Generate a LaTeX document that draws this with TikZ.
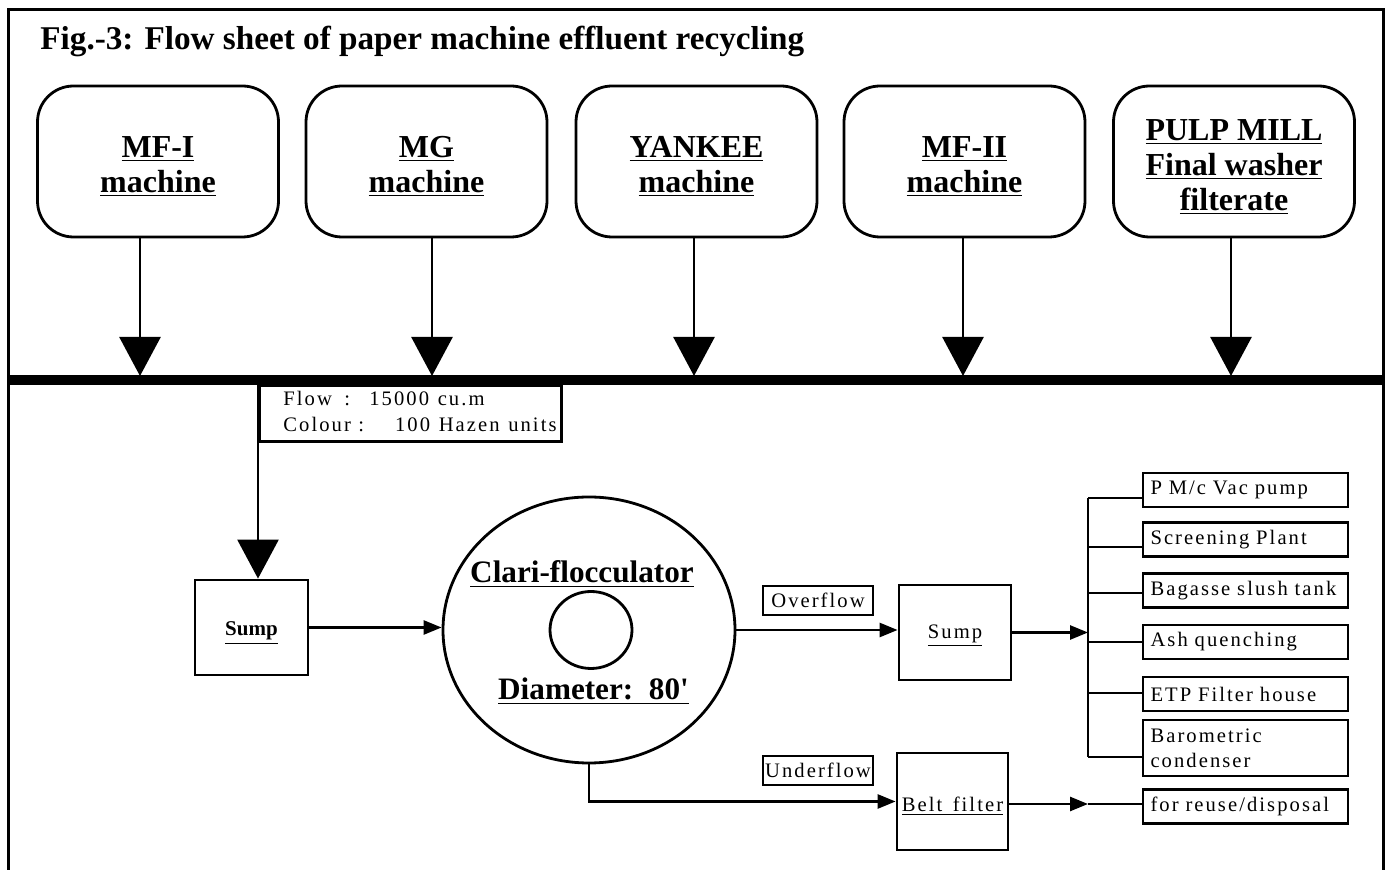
\documentclass[tikz,border=0pt]{standalone}
\usepackage{fontspec}
\setmainfont{Liberation Serif}
\newfontfamily\boxfont[LetterSpace=10,WordSpace=1.8]{Liberation Serif}
\newfontfamily\infofont[LetterSpace=10,WordSpace=1.2]{Liberation Serif}
\usetikzlibrary{arrows.meta,shapes.geometric}
\newcommand{\topstrut}{\rule{0pt}{15.8pt}}
\tikzset{
  frame/.style={line width=1.5pt},
  topbox/.style={draw, line width=1.4pt, rounded corners=18pt, minimum width=120.5pt, minimum height=75.5pt, align=center, inner sep=0pt, font=\bfseries\fontsize{16}{17.5}\selectfont},
  bigarr/.style={line width=1.3pt, -{Triangle[width=20.5pt,length=19.5pt]}},
  arr/.style={line width=1.3pt, -{Triangle[width=7pt,length=9pt]}},
  conn/.style={line width=1.3pt},
  sbox/.style={draw, line width=1.4pt, inner sep=0pt},
  lbl/.style={sbox, minimum width=55pt, minimum height=14.5pt, font=\boxfont\fontsize{10.3}{12}\selectfont},
  rbox/.style={draw, line width=1.4pt, minimum width=102.5pt, minimum height=17pt, text width=95pt, inner xsep=3.75pt, inner ysep=0pt, align=left, font=\boxfont\fontsize{10.3}{12.5}\selectfont},
}
\begin{document}
\begin{tikzpicture}[x=0.5pt,y=-0.5pt]
\useasboundingbox (0,0) rectangle (1388,870);
% frame
\draw[frame] (8,870) -- (8,10) -- (1383,10) -- (1383,870);
% title
\node[anchor=base west, inner sep=0pt, font=\bfseries\fontsize{16.6}{20}\selectfont] (title) at (40,50) {Fig.-3: Flow sheet of paper machine effluent recycling};
% top boxes
\node[topbox] (m1) at (158,161.5) {\topstrut\underline{MF-I}\\\underline{machine}};
\node[topbox] (m2) at (426.5,161.5) {\topstrut\underline{MG}\\\underline{machine}};
\node[topbox] (m3) at (696.5,161.5) {\topstrut\underline{YANKEE}\\\underline{machine}};
\node[topbox] (m4) at (964.5,161.5) {\topstrut\underline{MF-II}\\\underline{machine}};
\node[topbox] (m5) at (1234,161.5) {\topstrut\underline{PULP MILL}\\\underline{Final washer}\\\underline{filterate}};
% bus
\coordinate (busL) at (8,380);
\coordinate (busR) at (1383,380);
\draw[line width=5pt] (busL) -- (busR);
\coordinate (b1) at (140,376);
\coordinate (b2) at (432,376);
\coordinate (b3) at (694,376);
\coordinate (b4) at (963,376);
\coordinate (b5) at (1231,376);
\draw[bigarr] (m1.south -| b1) -- (b1);
\draw[bigarr] (m2.south -| b2) -- (b2);
\draw[bigarr] (m3.south -| b3) -- (b3);
\draw[bigarr] (m4.south -| b4) -- (b4);
\draw[bigarr] (m5.south -| b5) -- (b5);
% info box
\node[sbox, anchor=north west, minimum width=151pt, minimum height=28pt] (info) at (258,384) {};
\node[anchor=north west, inner sep=0pt, align=left, font=\infofont\fontsize{10.3}{13}\selectfont] (infotxt) at (283,391)
 {\makebox[30.5pt][l]{Flow}:\makebox[39.5pt][r]{15000}\ cu.m\\
  \makebox[37.5pt][l]{Colour}:\makebox[33pt][r]{100}\ Hazen units};
% sump 1
\node[sbox, minimum width=56.5pt, minimum height=47.5pt, font=\bfseries\fontsize{10.5}{12}\selectfont] (s1) at (251.5,627.5) {\rule{0pt}{12.5pt}\underline{Sump}};
\coordinate (c0) at (258,385);
\draw[bigarr] (c0) -- (c0 |- s1.north);
% clari-flocculator
\node[draw, ellipse, line width=1.4pt, minimum width=146pt, minimum height=133pt, inner sep=0pt] (clari) at (589,630) {};
\node[draw, ellipse, line width=1.4pt, minimum width=41pt, minimum height=38.5pt, inner sep=0pt] (core) at (591,630) {};
\node[anchor=base, inner sep=0pt, font=\bfseries\fontsize{15.6}{18}\selectfont] (clabel) at (582,583) {\underline{Clari-flocculator}};
\node[anchor=base, inner sep=0pt, font=\bfseries\fontsize{15.6}{18}\selectfont] (dlabel) at (593.5,700) {\underline{Diameter:\ \ 80\textquotesingle}};
\draw[arr] (s1.east) -- (s1.east -| clari.west);
% overflow branch
\node[lbl] (over) at (818,600.5) {Overflow};
\node[sbox, minimum width=56pt, minimum height=47.5pt, font=\boxfont\fontsize{10.3}{12}\selectfont] (s2) at (955,632.5) {\rule{0pt}{10pt}\underline{Sump}};
\draw[arr] (clari.east) -- (clari.east -| s2.west);
% underflow branch
\node[lbl] (under) at (818,770.5) {Underflow};
\node[sbox, minimum width=55.5pt, minimum height=48.5pt, font=\boxfont\fontsize{10.3}{12}\selectfont] (belt) at (952.5,801.5) {\rule{0pt}{12pt}\underline{Belt filter}};
\draw[arr] (clari.south) |- (belt.west);
% distribution
\node[rbox] (r1) at (1245.5,490) {P M/c Vac pump};
\node[rbox] (r2) at (1245.5,539.5) {Screening Plant};
\node[rbox] (r3) at (1245.5,590.5) {Bagasse slush tank};
\node[rbox] (r4) at (1245.5,642) {Ash quenching};
\node[rbox] (r5) at (1245.5,694) {ETP Filter house};
\node[rbox, minimum height=28pt] (r6) at (1245.5,748) {Barometric\\condenser};
\node[rbox] (r7) at (1245.5,806.5) {for reuse/disposal};
\coordinate (d1) at (1088,498);
\coordinate (d2) at (1088,547);
\coordinate (d3) at (1088,593);
\coordinate (d4) at (1088,642);
\coordinate (d5) at (1088,693);
\coordinate (d6) at (1088,757);
\coordinate (dj) at (1088,632.5);
\coordinate (dr) at (1088,804);
\draw[conn] (d1) -- (d6);
\draw[conn] (d1) -- (d1 -| r1.west);
\draw[conn] (d2) -- (d2 -| r2.west);
\draw[conn] (d3) -- (d3 -| r3.west);
\draw[conn] (d4) -- (d4 -| r4.west);
\draw[conn] (d5) -- (d5 -| r5.west);
\draw[conn] (d6) -- (d6 -| r6.west);
\draw[arr] (s2.east) -- (dj);
\draw[arr] (belt.east |- dr) -- (dr);
\draw[conn] (dr) -- (dr -| r7.west);
\end{tikzpicture}
\end{document}
